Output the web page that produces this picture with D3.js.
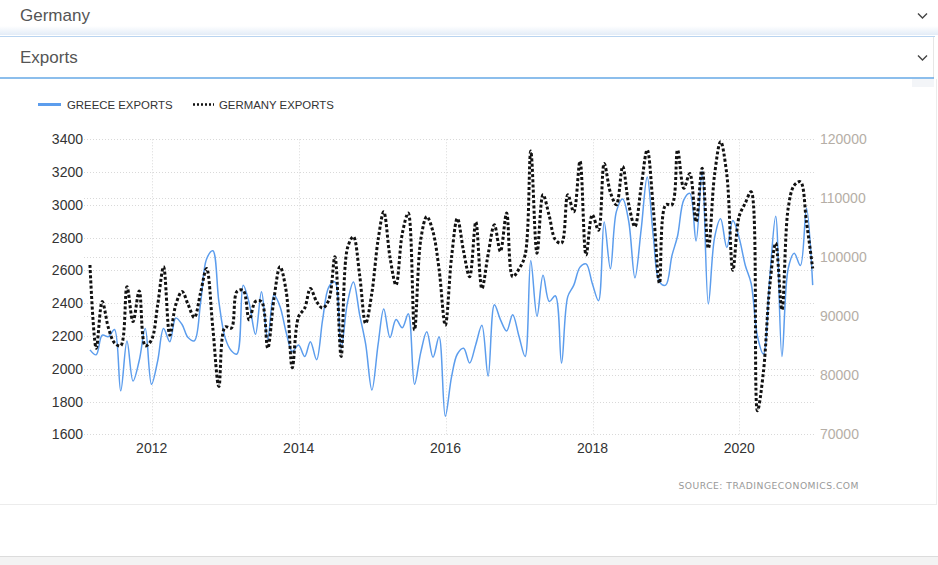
<!DOCTYPE html>
<html>
<head>
<meta charset="utf-8">
<script src="https://cdn.jsdelivr.net/npm/d3@7"></script>
<style>
  body { margin: 0; background: #fff; font-family: "Liberation Sans", Arial, sans-serif; }
  svg { display: block; }
</style>
</head>
<body>
<div id="chart"></div>
<script>
// monthly values, month-end, Feb 2011 .. Dec 2020
var firstMonth = new Date(2011, 1, 1);

var greece = [
  2115, 2085, 2205, 2196, 2240, 1865, 2170, 1925, 2050, 2245,
  1905, 2050, 2245, 2165, 2310, 2270, 2190, 2170, 2400, 2670,
  2720, 2410, 2190, 2110, 2090, 2510, 2400, 2210, 2470, 2180,
  2450, 2380, 2220, 2105, 2145, 2075, 2165, 2055, 2300, 2500,
  2530, 2125, 2400, 2530, 2330, 2150, 1870, 2150, 2365, 2190,
  2300, 2250, 2335, 1905, 2100, 2225, 2070, 2195, 1710, 1950,
  2090, 2125, 2035, 2150, 2265, 1955, 2390, 2300, 2230, 2330,
  2200, 2075, 2660, 2320, 2570, 2410, 2445, 2035, 2440, 2510,
  2620, 2640, 2520, 2415, 2895, 2610, 2960, 3035, 2900, 2555,
  2850, 3170, 2800, 2530, 2510, 2690, 2810, 3030, 3070, 2780,
  3205, 2395, 2800, 2915, 2740, 2905, 2800, 2630, 2520, 2200,
  2090, 2550, 2930, 2075, 2610, 2705, 2630, 2980, 2510
];

var germany = [
  98700, 84600, 92500, 88000, 85500, 85000, 95000, 89100, 94300, 85000,
  86000, 92000, 98400, 86800, 92000, 94200, 92000, 89800, 94000, 98100,
  88000, 78100, 88200, 88000, 94200, 94400, 89400, 92500, 92500, 84600,
  93000, 98400, 94200, 81300, 89900, 91400, 94700, 92500, 91400, 92800,
  100100, 83200, 101500, 103500, 97000, 88800, 94000, 103000, 107700, 100000,
  95300, 104000, 107500, 87700, 103000, 106900, 104300, 98000, 88500, 100000,
  106600, 101000, 96700, 106000, 94700, 100500, 105500, 101000, 107500, 96700,
  98000, 100400, 118000, 100700, 110600, 107000, 103000, 102400, 110600, 107700,
  116300, 100400, 107200, 104600, 115900, 111000, 108900, 115400, 109000, 105200,
  112000, 118200, 108000, 95600, 108900, 108900, 118200, 111700, 114200, 106000,
  115100, 101500, 114000, 119600, 114000, 97800, 106900, 109200, 111100, 74000,
  80600, 95000, 102400, 91100, 108300, 112200, 112800, 106000, 98100
];

var leftTicks = [1600, 1800, 2000, 2200, 2400, 2600, 2800, 3000, 3200, 3400];
var rightTicks = [70000, 80000, 90000, 100000, 110000, 120000];
var yearTicks = [2012, 2014, 2016, 2018, 2020];

var dates = greece.map(function (d, i) {
  // last day of each month
  return new Date(firstMonth.getFullYear(), firstMonth.getMonth() + i + 1, 0);
});

var W = 938, H = 565;
var svg = d3.select("#chart").append("svg").attr("width", W).attr("height", H);

// ---- top selectors ----
var defs = svg.append("defs");
var sh = defs.append("linearGradient").attr("id", "shade").attr("x1", 0).attr("x2", 0).attr("y1", 0).attr("y2", 1);
sh.append("stop").attr("offset", "0%").attr("stop-color", "#ffffff");
sh.append("stop").attr("offset", "100%").attr("stop-color", "#e3ecf7");
svg.append("rect").attr("x", 0).attr("y", 26).attr("width", 938).attr("height", 9).attr("fill", "url(#shade)");
svg.append("line").attr("x1", 0).attr("x2", 935).attr("y1", 36.5).attr("y2", 36.5).attr("stroke", "#b9d4f0");

svg.append("text").attr("x", 20).attr("y", 21).style("font-size", "17px").style("fill", "#555").text("Germany");
svg.append("text").attr("x", 20).attr("y", 63).style("font-size", "17px").style("fill", "#555").text("Exports");

function chevron(cy) {
  svg.append("path")
    .attr("d", "M918," + (cy - 2.5) + "L922.5," + (cy + 2) + "L927," + (cy - 2.5))
    .attr("fill", "none").attr("stroke", "#444").attr("stroke-width", 1.4);
}
chevron(16);
chevron(58);

svg.append("line").attr("x1", 933.5).attr("x2", 933.5).attr("y1", 37).attr("y2", 78).attr("stroke", "#e6e6e6");
svg.append("line").attr("x1", 0).attr("x2", 934).attr("y1", 78).attr("y2", 78).attr("stroke", "#66a9e6").attr("stroke-width", 1.5);
svg.append("rect").attr("x", 912).attr("y", 79).attr("width", 22).attr("height", 8).attr("fill", "#f3f5f8");

// ---- chart panel ----
svg.append("line").attr("x1", 936.5).attr("x2", 936.5).attr("y1", 79).attr("y2", 504).attr("stroke", "#ececec");
svg.append("line").attr("x1", 0).attr("x2", 937).attr("y1", 504.5).attr("y2", 504.5).attr("stroke", "#ececec");
svg.append("rect").attr("x", 0).attr("y", 556).attr("width", 938).attr("height", 9).attr("fill", "#f3f3f3");
svg.append("line").attr("x1", 0).attr("x2", 938).attr("y1", 556.5).attr("y2", 556.5).attr("stroke", "#dcdcdc");

// ---- scales ----
var plotL = 84, plotR = 815, plotT = 139.3, plotB = 434.3;
var x = d3.scaleTime()
  .domain([new Date(2012, 0, 1), new Date(2020, 0, 1)])
  .range([151.7, 739.3]);
var yL = d3.scaleLinear().domain([1600, 3400]).range([plotB, plotT]);
var yR = d3.scaleLinear().domain([70000, 120000]).range([plotB, plotT]);

// ---- grid ----
var grid = svg.append("g").attr("stroke", "#d9d9d9").attr("stroke-width", 1).attr("stroke-dasharray", "1,2").attr("fill", "none");
leftTicks.forEach(function (t) {
  var yy = Math.round(yL(t)) + 0.5;
  grid.append("line").attr("x1", plotL).attr("x2", plotR).attr("y1", yy).attr("y2", yy);
});
rightTicks.forEach(function (t) {
  var yy = Math.round(yR(t)) + 0.5;
  grid.append("line").attr("x1", plotL).attr("x2", plotR).attr("y1", yy).attr("y2", yy);
});
yearTicks.forEach(function (t) {
  var xx = Math.round(x(new Date(t, 0, 1))) + 0.5;
  grid.append("line").attr("x1", xx).attr("x2", xx).attr("y1", plotT).attr("y2", plotB + 2);
});

// ---- axes labels ----
svg.append("g").selectAll("text").data(leftTicks).enter().append("text")
  .attr("x", 83).attr("y", function (d) { return yL(d) + 5; })
  .attr("text-anchor", "end")
  .style("font-size", "14px").style("fill", "#333")
  .text(function (d) { return d; });

svg.append("g").selectAll("text").data(rightTicks).enter().append("text")
  .attr("x", 820).attr("y", function (d) { return yR(d) + 5; })
  .style("font-size", "14px").style("fill", "#b5aea6")
  .text(function (d) { return d; });

svg.append("g").selectAll("text").data(yearTicks).enter().append("text")
  .attr("x", function (d) { return x(new Date(d, 0, 1)); })
  .attr("y", 453)
  .attr("text-anchor", "middle")
  .style("font-size", "14px").style("fill", "#333")
  .text(function (d) { return d; });

// ---- lines ----
var lineG = d3.line()
  .x(function (d, i) { return x(dates[i]); })
  .y(function (d) { return yL(d); })
  .curve(d3.curveCatmullRom.alpha(0.5));

var lineD = d3.line()
  .x(function (d, i) { return x(dates[i]); })
  .y(function (d) { return yR(d); })
  .curve(d3.curveCatmullRom.alpha(0.5));

svg.append("path").datum(greece)
  .attr("d", lineG)
  .attr("fill", "none").attr("stroke", "#5c9ded").attr("stroke-width", 1.5);

svg.append("path").datum(germany)
  .attr("d", lineD)
  .attr("fill", "none").attr("stroke", "#111").attr("stroke-width", 3)
  .attr("stroke-dasharray", "3,2.2");

// ---- legend ----
svg.append("line").attr("x1", 38).attr("x2", 61).attr("y1", 104.5).attr("y2", 104.5)
  .attr("stroke", "#5c9ded").attr("stroke-width", 3);
svg.append("text").attr("x", 67).attr("y", 108.5).style("font-size", "11.4px").style("fill", "#333").text("GREECE EXPORTS");
svg.append("line").attr("x1", 193).attr("x2", 214).attr("y1", 104.5).attr("y2", 104.5)
  .attr("stroke", "#111").attr("stroke-width", 2.5).attr("stroke-dasharray", "2,2");
svg.append("text").attr("x", 219).attr("y", 108.5).style("font-size", "11.4px").style("fill", "#333").text("GERMANY EXPORTS");

// ---- source ----
svg.append("text").attr("x", 859).attr("y", 489).attr("text-anchor", "end")
  .style("font-family", "'DejaVu Sans', sans-serif")
  .style("font-size", "9.2px").style("fill", "#999").style("letter-spacing", "0.5px")
  .text("SOURCE:  TRADINGECONOMICS.COM");
</script>
</body>
</html>
